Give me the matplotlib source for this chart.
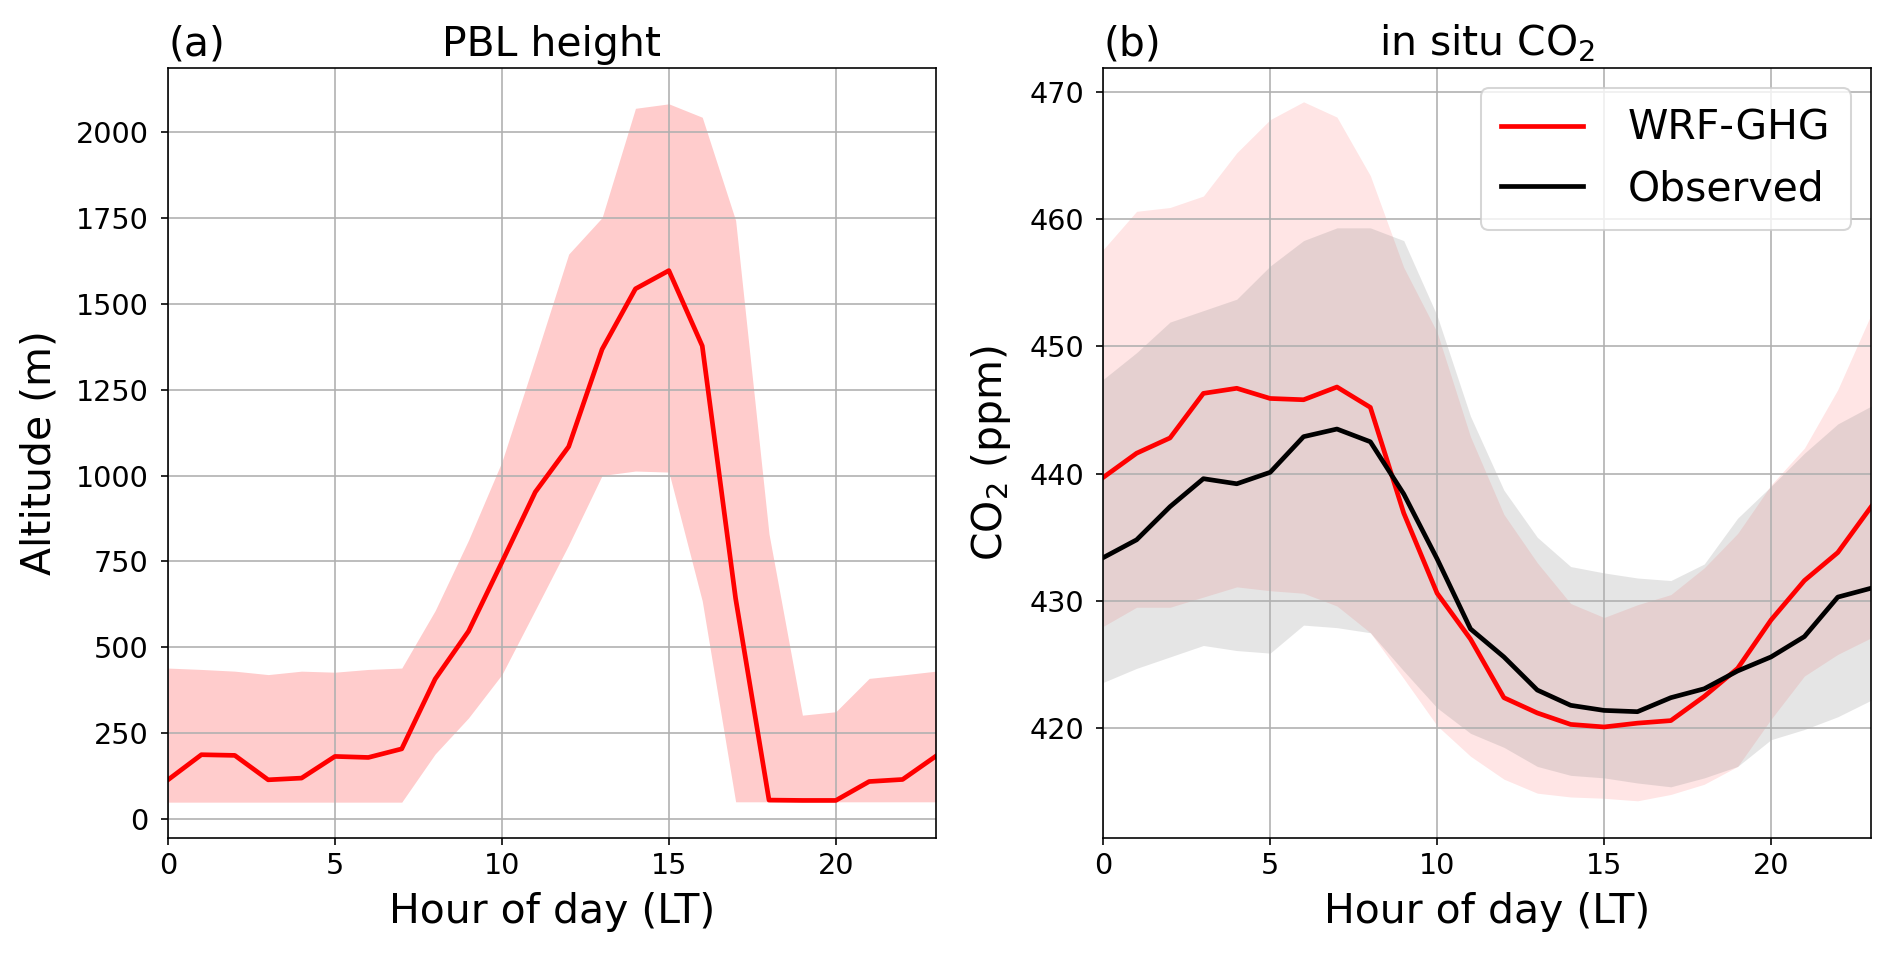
import matplotlib
matplotlib.use("Agg")
import matplotlib.pyplot as plt
import numpy as np

hours = list(range(24))

# (a) PBL height, WRF-GHG mean and spread (m)
pbl_mean = [115, 188, 186, 115, 120, 183, 180, 205, 408, 547, 748, 952, 1084, 1367,
            1543, 1596, 1377, 642, 56, 55, 55, 110, 116, 184]
pbl_upper = [440, 436, 431, 421, 431, 428, 436, 440, 607, 812, 1040, 1340, 1644, 1750,
             2068, 2081, 2042, 1742, 830, 303, 313, 410, 420, 431]
pbl_lower = [50, 50, 50, 50, 50, 50, 50, 50, 190, 295, 421, 609, 798, 1000,
             1013, 1010, 635, 51, 51, 51, 51, 51, 51, 51]

# (b) in situ CO2 (ppm)
co2_wrf = [439.7, 441.6, 442.8, 446.3, 446.7, 445.9, 445.8, 446.8, 445.2, 436.9, 430.6, 427.0,
           422.4, 421.2, 420.3, 420.1, 420.4, 420.6, 422.5, 424.7, 428.5, 431.6, 433.8, 437.4]
wrf_upper = [457.6, 460.6, 460.9, 461.8, 465.2, 467.8, 469.2, 468.0, 463.4, 456.2, 451.1, 442.9,
             436.8, 433.0, 429.8, 428.7, 429.7, 430.5, 432.6, 435.3, 439.1, 442.0, 446.6, 452.5]
wrf_lower = [428.0, 429.5, 429.5, 430.3, 431.1, 430.8, 430.6, 429.6, 427.5, 423.9, 420.2, 417.8,
             416.0, 414.9, 414.6, 414.5, 414.3, 414.8, 415.6, 417.0, 420.7, 424.1, 425.8, 427.1]
co2_obs = [433.4, 434.8, 437.4, 439.6, 439.2, 440.1, 442.9, 443.5, 442.5, 438.4, 433.3, 427.8,
           425.6, 423.0, 421.8, 421.4, 421.3, 422.4, 423.1, 424.5, 425.6, 427.2, 430.3, 431.0]
obs_upper = [447.4, 449.5, 451.9, 452.8, 453.7, 456.3, 458.3, 459.3, 459.3, 458.3, 452.4, 444.5,
             438.7, 435.0, 432.7, 432.2, 431.8, 431.6, 432.9, 436.5, 439.0, 441.6, 443.9, 445.3]
obs_lower = [423.6, 424.7, 425.6, 426.5, 426.1, 425.9, 428.1, 427.9, 427.5, 424.5, 421.6, 419.6,
             418.5, 417.0, 416.3, 416.1, 415.7, 415.4, 416.1, 417.0, 419.1, 419.9, 420.9, 422.2]

DPI = 147
fig = plt.figure(figsize=(1892 / DPI, 956 / DPI), dpi=DPI)
ax1 = fig.add_axes([0.0888, 0.1237, 0.4059, 0.8051])
ax2 = fig.add_axes([0.5831, 0.1237, 0.4059, 0.8051])


def style(ax, ylabel, tag, title):
    ax.set_xlim(0, 23)
    ax.set_xticks([0, 5, 10, 15, 20])
    ax.grid(True)
    ax.tick_params(labelsize=14)
    ax.tick_params(axis="y", pad=6)
    ax.set_xlabel("Hour of day (LT)", fontsize=20, labelpad=6)
    ax.set_ylabel(ylabel, fontsize=20, labelpad=8)
    ax.set_title(tag, loc="left", fontsize=20)
    ax.set_title(title, fontsize=20)


# panel (a)
ax1.fill_between(hours, pbl_lower, pbl_upper, color="red", alpha=0.2, linewidth=0)
ax1.plot(hours, pbl_mean, color="red", lw=2.3)
ax1.set_ylim(-53.5, 2185)
style(ax1, "Altitude (m)", "(a)", "PBL height")

# panel (b)
ax2.fill_between(hours, wrf_lower, wrf_upper, color="red", alpha=0.1, linewidth=0)
ax2.fill_between(hours, obs_lower, obs_upper, color="grey", alpha=0.2, linewidth=0)
ax2.plot(hours, co2_wrf, color="red", lw=2.3, label="WRF-GHG")
ax2.plot(hours, co2_obs, color="black", lw=2.3, label="Observed")
ax2.set_ylim(411.4, 471.85)
style(ax2, "CO$_2$ (ppm)", "(b)", "in situ CO$_2$")
ax2.legend(loc="upper right", fontsize=20, borderpad=0.5, handletextpad=1.1)

fig.savefig("out.png", dpi=DPI)
